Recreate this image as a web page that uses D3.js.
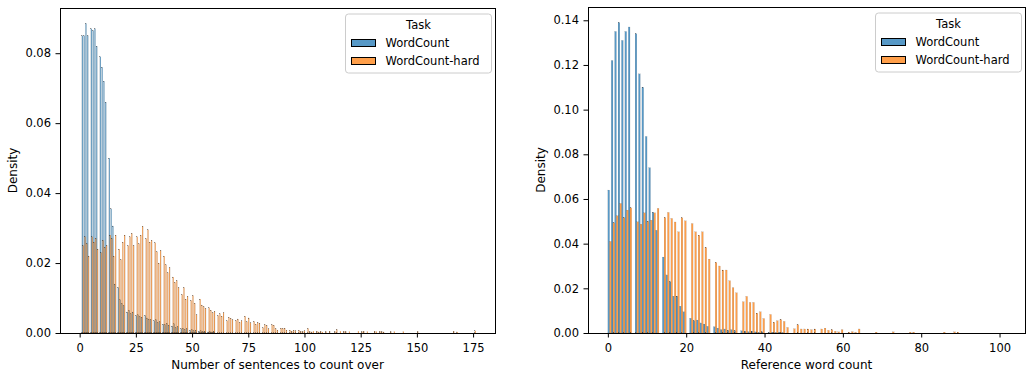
<!DOCTYPE html>
<html>
<head>
<meta charset="utf-8">
<script src="https://cdn.jsdelivr.net/npm/d3@7"></script>
<style>
  body { margin: 0; background: #fff; }
  text { font-family: "DejaVu Sans", sans-serif; }
</style>
</head>
<body>
<svg id="chart" width="1026" height="373"></svg>
<script>
const tasks = ["WordCount", "WordCount-hard"];
const colors = ["#1f77b4", "#ff7f0e"];

// left panel: number of sentences, values start at 1
const sentStart = 1;
const sentEasy = [0.085,0.085,0.0885,0.085,0.087,0.0865,0.087,0.082,0.079,0.076,
  0.072,0.066,0.05,0.0355,0.0306,0.014,0.013,0.0095,0.0085,0.0078,
  0.006,0.0065,0.0055,0.006,0.005,0.0052,0.0047,0.0045,0.005,0.0043,
  0.004,0.0038,0.0035,0.0038,0.003,0.0032,0.0025,0.0024,0.0028,0.0022,
  0.002,0.0026,0.0015,0.0018,0.0012,0.0014,0.001,0.0012,0.0008,0.001,
  0.0006,0.0008,0.0005,0.0006,0.0004,0.0005,0.0003,0.0004,0.0003,0.0005];
const sentHard = [0.025,0.0275,0.0255,0.022,0.0275,0.026,0.027,0.024,0.023,0.0265,
  0.0245,0.025,0.028,0.027,0.022,0.028,0.024,0.021,0.026,0.028,
  0.025,0.0275,0.0285,0.025,0.0275,0.0255,0.028,0.0305,0.027,0.0295,
  0.026,0.0265,0.0258,0.0232,0.02,0.0236,0.022,0.0195,0.0172,0.0187,
  0.016,0.0145,0.015,0.013,0.011,0.013,0.0097,0.0105,0.0093,0.0107,
  0.0085,0.0052,0.0097,0.008,0.0075,0.007,0.0072,0.0065,0.0058,0.0062,
  0.005,0.0055,0.0048,0.0058,0.0035,0.0045,0.0042,0.0038,0.0036,0.004,
  0.003,0.0035,0.0048,0.0032,0.0043,0.0029,0.0033,0.0025,0.003,0.0028,
  0.0015,0.0024,0.0022,0.0012,0.0024,0.0022,0.0012,0.0008,0.0014,0.0013,
  0.0014,0.0008,0.0008,0.0005,0.0008,0.0006,0.0008,0.0005,0.0004,0.0006,
  0.0013,0.0004,0.0003,0.0005,0.0005,0.0003,0.0005,0.0003,0.0004,0,
  0.0005,0,0.0004,0.001,0,0.0005,0.0005,0.0004,0,0.0004,
  0,0,0,0.0005,0.0004,0.0005,0,0.0004,0,0,
  0.0005,0.0004,0.0005,0.0004,0.0003,0,0,0.0004,0,0.0004,
  0,0,0,0.0004,0,0,0,0,0,0.0004,
  0,0,0,0,0,0,0,0,0,0,
  0,0,0,0,0,0.0005,0,0.0003,0,0,
  0,0,0,0,0,0.0006];

// right panel: reference word count, values start at 0
const wordStart = 0;
const wordEasy = [0.064,0.122,0.135,0.139,0.131,0.135,0.137,0.134,0.116,0.11,
  0.088,0.074,0.054,0.046,0.034,0.026,0.023,0.0165,0.0165,0.012,
  0.0095,0.0066,0.0055,0.0058,0.0045,0.004,0.003,0.0028,0.0022,0.0015,
  0.0018,0.0012,0.0015,0.001,0.001,0.0008,0.0006,0.0008,0.0005,0.0004,
  0.0005,0.0003,0.0004,0.0003,0.0004,0.0003];
const wordHard = [0.041,0.0493,0.0525,0.058,0.0517,0.055,0.056,0.0498,0.0487,0.0538,
  0.05,0.0505,0.0538,0.0558,0.0517,0.054,0.0513,0.0497,0.0453,0.0516,
  0.0502,0.049,0.0453,0.0438,0.0453,0.0383,0.0331,0.0316,0.03,0.0282,
  0.0282,0.0234,0.0203,0.018,0.014,0.0164,0.0137,0.0137,0.0089,0.0095,
  0.0065,0.0083,0.0048,0.0055,0.006,0.0052,0.0025,0.0019,0.0037,0.0018,
  0.0018,0.0018,0.0015,0.0018,0.0018,0.0022,0.0012,0.0015,0.0008,0.0005,
  0.0015,0.0004,0.0006,0.0003,0.0018,0,0,0,0.0004,0,
  0,0,0,0.0005,0,0,0,0.0004,0.0004,0,
  0,0,0,0,0,0,0.0004,0,0.0005,0.0004];

const sentTicksX = [0, 25, 50, 75, 100, 125, 150, 175];
const sentTicksY = [0, 0.02, 0.04, 0.06, 0.08];
const wordTicksX = [0, 20, 40, 60, 80, 100];
const wordTicksY = [0, 0.02, 0.04, 0.06, 0.08, 0.10, 0.12, 0.14];

const svg = d3.select("#chart");

function drawPanel(p) {
  const g = svg.append("g");
  const x = d3.scaleLinear().domain(p.xDomain).range([p.left, p.right]);
  const ymax = d3.max(p.series, s => d3.max(s)) * 1.05;
  const y = d3.scaleLinear().domain([0, ymax]).range([p.bottom, p.top]);
  const bw = p.binWidth;

  // dodge: each bin split in two halves, one per task
  p.series.forEach((vals, i) => {
    const bars = vals.map((d, j) => {
      const v = p.start + j;
      const edge = p.start + Math.floor((v - p.start) / bw + 1e-9) * bw;
      return { x0: edge + i * bw / 2, x1: edge + (i + 1) * bw / 2, d: d };
    }).filter(b => b.d > 0);
    g.append("g").selectAll("rect").data(bars).join("rect")
      .attr("x", b => x(b.x0))
      .attr("width", b => x(b.x1) - x(b.x0))
      .attr("y", b => y(b.d))
      .attr("height", b => y(0) - y(b.d))
      .attr("fill", colors[i])
      .attr("fill-opacity", 0.75)
      .attr("stroke", "#000")
      .attr("stroke-width", 0.15)
      .attr("stroke-opacity", 0.5);
  });

  const xAxis = d3.axisBottom(x).tickValues(p.xTicks).tickSize(4.5).tickPadding(6);
  const yAxis = d3.axisLeft(y).tickValues(p.yTicks).tickSize(4.5).tickPadding(4.5)
    .tickFormat(d3.format(".2f"));
  const gx = g.append("g").attr("transform", `translate(0,${p.bottom})`).call(xAxis);
  const gy = g.append("g").attr("transform", `translate(${p.left},0)`).call(yAxis);
  [gx, gy].forEach(a => {
    a.select(".domain").remove();
    a.selectAll("text").attr("font-size", 11.5).attr("fill", "#000")
      .attr("font-family", "DejaVu Sans, sans-serif");
    a.selectAll("line").attr("stroke", "#000");
  });

  // frame
  g.append("rect")
    .attr("x", p.left).attr("y", p.top)
    .attr("width", p.right - p.left).attr("height", p.bottom - p.top)
    .attr("fill", "none").attr("stroke", "#000").attr("stroke-width", 1)
    .attr("shape-rendering", "crispEdges");

  g.append("text")
    .attr("x", (p.left + p.right) / 2).attr("y", p.bottom + 36)
    .attr("text-anchor", "middle").attr("font-size", 12)
    .text(p.xLabel);
  g.append("text")
    .attr("transform", `translate(${p.left - 43},${(p.top + p.bottom) / 2}) rotate(-90)`)
    .attr("text-anchor", "middle").attr("font-size", 12)
    .text("Density");

  // legend
  const lw = 146, lh = 59;
  const lx = p.right - 3.5 - lw, ly = p.top + 6;
  const lg = g.append("g").attr("transform", `translate(${lx},${ly})`);
  lg.append("rect").attr("width", lw).attr("height", lh).attr("rx", 3)
    .attr("fill", "#fff").attr("fill-opacity", 0.8)
    .attr("stroke", "#ccc").attr("stroke-width", 1);
  lg.append("text").attr("x", lw / 2).attr("y", 14.5)
    .attr("text-anchor", "middle").attr("font-size", 11.5).text("Task");
  tasks.forEach((t, i) => {
    const yy = 25.5 + i * 18;
    lg.append("rect").attr("x", 6).attr("y", yy).attr("width", 24).attr("height", 7)
      .attr("fill", colors[i]).attr("fill-opacity", 0.75)
      .attr("stroke", "#000").attr("stroke-width", 1);
    lg.append("text").attr("x", 40).attr("y", yy + 7.5)
      .attr("font-size", 11.5).text(t);
  });
}

drawPanel({
  left: 60, right: 495, top: 8, bottom: 333,
  xDomain: [-8.75, 184.75], binWidth: 0.8, start: sentStart,
  series: [sentEasy, sentHard],
  xTicks: sentTicksX, yTicks: sentTicksY,
  xLabel: "Number of sentences to count over"
});

drawPanel({
  left: 588, right: 1025, top: 7, bottom: 333,
  xDomain: [-5.07, 106.5], binWidth: 0.87, start: wordStart,
  series: [wordEasy, wordHard],
  xTicks: wordTicksX, yTicks: wordTicksY,
  xLabel: "Reference word count"
});
</script>
</body>
</html>
